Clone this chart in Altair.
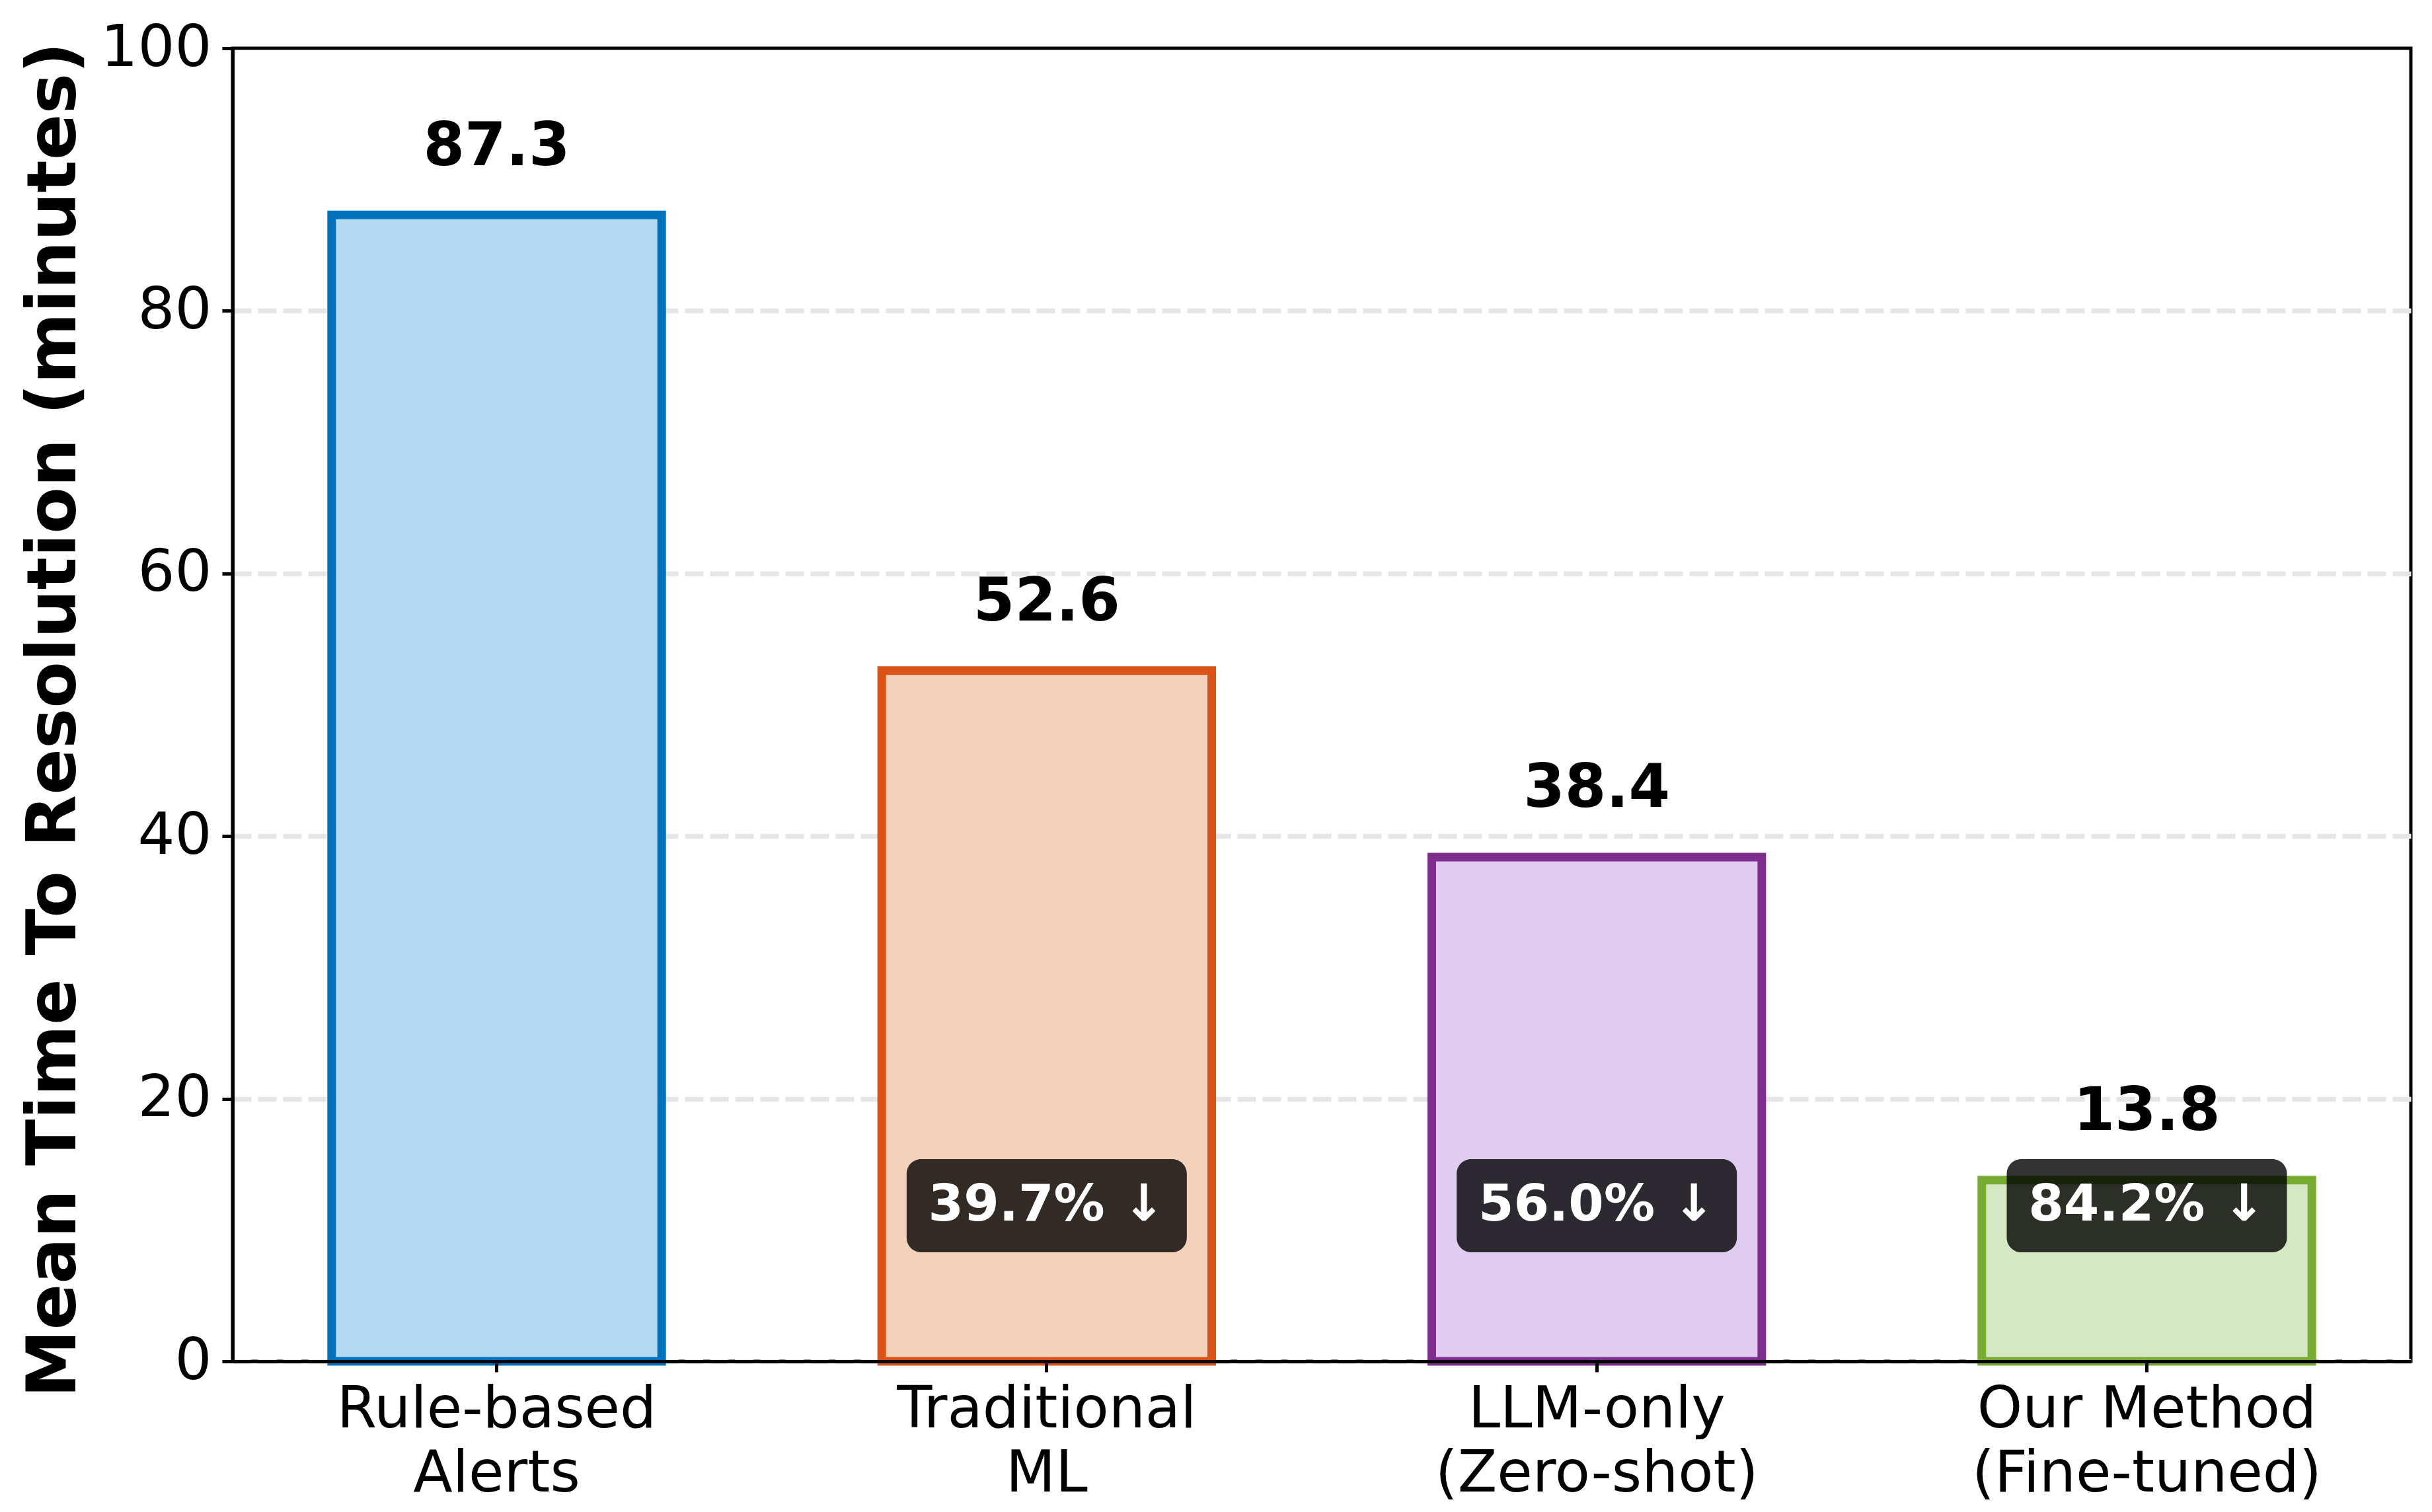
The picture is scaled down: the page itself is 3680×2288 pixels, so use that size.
import altair as alt
import pandas as pd

categories = ["Rule-based\nAlerts", "Traditional\nML", "LLM-only\n(Zero-shot)", "Our Method\n(Fine-tuned)"]
mttr = [87.3, 52.6, 38.4, 13.8]
fill_colors = ["#b3d8f0", "#f3d1bb", "#e0ccf0", "#d4e9c3"]
edge_colors = ["#0072BD", "#D95319", "#7E2F8E", "#77AC30"]
badge_categories = categories[1:]
reductions = [39.7, 56.0, 84.2]
y_ticks = [0, 20, 40, 60, 80, 100]

bars_df = pd.DataFrame({"cat": categories, "mttr": mttr})
badge_df = pd.DataFrame({"cat": badge_categories,
                         "label": [f"{r:.1f}% \u2193" for r in reductions]})

W, H = 3296, 1987
FONT = "DejaVu Sans"

x_enc = alt.X("cat:N", sort=categories,
              scale=alt.Scale(paddingInner=0.4, paddingOuter=0.18),
              axis=alt.Axis(title=None, labelAngle=0, labelFontSize=87, labelFont=FONT,
                            labelExpr="split(datum.label, '\\n')", labelLimit=0,
                            labelLineHeight=97, labelPadding=14,
                            tickSize=16, tickWidth=5, domainWidth=5,
                            domainColor="black", tickColor="black",
                            labelColor="black", zindex=1))

y_scale = alt.Scale(domain=[0, 100], nice=False)
y_axis = alt.Axis(title="Mean Time To Resolution (minutes)", values=y_ticks,
                  titleFontSize=103, titleFontWeight="bold", titleColor="black",
                  titleFont=FONT, labelFont=FONT,
                  titleBaseline="alphabetic", titleX=-239, titleY=1016,
                  labelFontSize=88, labelColor="black", labelPadding=16,
                  tickSize=16, tickWidth=5, tickColor="black",
                  domainWidth=5, domainColor="black",
                  grid=True, gridColor="#e6e6e6", gridWidth=7.5, gridDash=[28, 10],
                  gridOpacity=alt.condition("datum.value >= 100", alt.value(0), alt.value(1)))

bars = alt.Chart(bars_df).mark_bar(strokeWidth=13).encode(
    x=x_enc,
    y=alt.Y("mttr:Q", scale=y_scale, axis=y_axis),
    fill=alt.Fill("cat:N", scale=alt.Scale(domain=categories, range=fill_colors), legend=None),
    stroke=alt.Stroke("cat:N", scale=alt.Scale(domain=categories, range=edge_colors), legend=None),
)

values = alt.Chart(bars_df).mark_text(font=FONT, fontSize=90, fontWeight="bold", color="black",
                                      baseline="alphabetic", dy=-75.5).encode(
    x=alt.X("cat:N", sort=categories),
    y=alt.Y("mttr:Q"),
    text=alt.Text("mttr:Q", format=".1f"),
)

badges = alt.Chart(badge_df).mark_bar(width=424, cornerRadius=22, fill="black",
                                      fillOpacity=0.8, strokeWidth=0).encode(
    x=alt.X("cat:N", sort=categories),
    y=alt.datum(8.3),
    y2=alt.datum(15.4),
)

badge_text = alt.Chart(badge_df).mark_text(font=FONT, fontSize=77, fontWeight="bold", color="white",
                                           baseline="middle", dy=2).encode(
    x=alt.X("cat:N", sort=categories),
    y=alt.datum(12),
    text="label:N",
)

chart = alt.layer(bars, values, badges, badge_text).properties(
    width=W, height=H,
    autosize=alt.AutoSizeParams(type="none"),
    padding={"left": 344, "top": 65, "right": 24, "bottom": 220},
).configure(
    font=FONT, background="white",
    view=alt.ViewConfig(stroke="black", strokeWidth=5, fill="white"),
)

chart.save("out.html", embed_options={"renderer": "svg", "actions": False})
